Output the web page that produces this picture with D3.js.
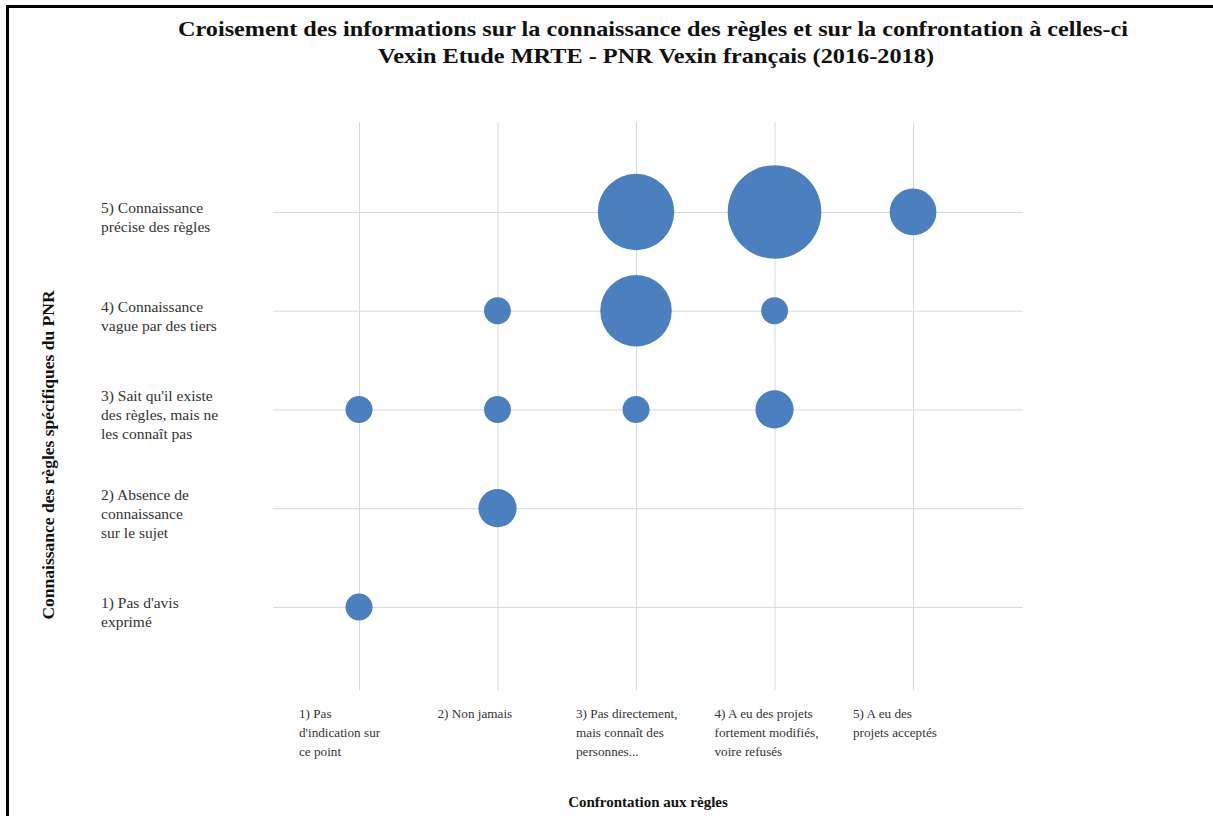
<!DOCTYPE html>
<html>
<head>
<meta charset="utf-8">
<script src="https://cdn.jsdelivr.net/npm/d3@7"></script>
<style>
  body { margin: 0; background: #fff; }
  svg text { font-family: "Liberation Serif", "Times New Roman", serif; }
</style>
</head>
<body>
<div class="chart"></div>
<script>
// axis categories (multi-line labels, as in the original)
const X_LABELS = [
  ["1) Pas", "d'indication sur", "ce point"],
  ["2) Non jamais"],
  ["3) Pas directement,", "mais connaît des", "personnes..."],
  ["4) A eu des projets", "fortement modifiés,", "voire refusés"],
  ["5) A eu des", "projets acceptés"]
];
const Y_LABELS = [
  ["1) Pas d'avis", "exprimé"],
  ["2) Absence de", "connaissance", "sur le sujet"],
  ["3) Sait qu'il existe", "des règles, mais ne", "les connaît pas"],
  ["4) Connaissance", "vague par des tiers"],
  ["5) Connaissance", "précise des règles"]
];

// bubbles: x = confrontation, y = connaissance, size = effectif
const CONFRONTATION = [1, 2, 3, 4, 2, 3, 4, 3, 4, 5, 2, 1];
const CONNAISSANCE  = [3, 3, 3, 3, 4, 4, 4, 5, 5, 5, 2, 1];
const EFFECTIF      = [1, 1, 1, 2, 1, 7, 1, 8, 12, 3, 2, 1];

const TITLE = [
  "Croisement des informations sur la connaissance des règles et sur la confrontation à celles-ci",
  "Vexin Etude MRTE  - PNR Vexin français (2016-2018)"
];
const X_TITLE = "Confrontation aux règles";
const Y_TITLE = "Connaissance des règles spécifiques du PNR";

const W = 1213, H = 816;
const BUBBLE = "#4b7fbd";
const GRID = "#d9d9d9";

const svg = d3.select(".chart").append("svg")
  .attr("width", W).attr("height", H);

// frame (only left and top edges are visible in the crop)
svg.append("line").attr("x1", 7.5).attr("x2", 7.5).attr("y1", 5).attr("y2", H)
  .attr("stroke", "#000").attr("stroke-width", 3);
svg.append("line").attr("x1", 6).attr("x2", W).attr("y1", 6.5).attr("y2", 6.5)
  .attr("stroke", "#000").attr("stroke-width", 3);

// plot area
const plotLeft = 273, plotRight = 1023, plotTop = 122, plotBottom = 690;
const xScale = d3.scaleLinear().domain([0.379, 5.794]).range([plotLeft, plotRight]);
const yScale = d3.scaleLinear().domain([0.159, 5.911]).range([plotBottom, plotTop]);
const rScale = d3.scaleSqrt().domain([0, 12]).range([0, 46.8]);

const ticks = d3.range(1, 6);

// gridlines via axes
svg.append("g")
  .attr("class", "grid-x")
  .attr("transform", `translate(0,${plotBottom})`)
  .call(d3.axisBottom(xScale).tickValues(ticks).tickSize(-(plotBottom - plotTop)).tickFormat(""))
  .call(g => g.select(".domain").remove())
  .call(g => g.selectAll("line").attr("stroke", GRID));

svg.append("g")
  .attr("class", "grid-y")
  .attr("transform", `translate(${plotLeft},0)`)
  .call(d3.axisLeft(yScale).tickValues(ticks).tickSize(-(plotRight - plotLeft)).tickFormat(""))
  .call(g => g.select(".domain").remove())
  .call(g => g.selectAll("line").attr("stroke", GRID));

// bubbles
const bubbles = EFFECTIF.map((v, i) => ({ x: CONFRONTATION[i], y: CONNAISSANCE[i], n: v }));
svg.append("g").selectAll("circle")
  .data(bubbles)
  .join("circle")
  .attr("cx", d => xScale(d.x))
  .attr("cy", d => yScale(d.y))
  .attr("r", d => rScale(d.n))
  .attr("fill", BUBBLE);

// x category labels
const lineH = 19;
svg.append("g").selectAll("text")
  .data(X_LABELS)
  .join("text")
  .attr("font-size", 13.2)
  .attr("fill", "#333")
  .each(function (lines, i) {
    const x0 = xScale(i + 1) - 60;
    d3.select(this).selectAll("tspan")
      .data(lines)
      .join("tspan")
      .attr("x", x0)
      .attr("y", (d, j) => plotBottom + 28 + j * lineH)
      .text(d => d);
  });

// y category labels
svg.append("g").selectAll("text")
  .data(Y_LABELS)
  .join("text")
  .attr("font-size", 15.5)
  .attr("fill", "#333")
  .each(function (lines, i) {
    const yc = yScale(i + 1) + 6;
    const y0 = yc - (lines.length - 1) * lineH / 2 + 5;
    d3.select(this).selectAll("tspan")
      .data(lines)
      .join("tspan")
      .attr("x", 101)
      .attr("y", (d, j) => y0 + j * lineH)
      .text(d => d);
  });

// titles
svg.append("text")
  .attr("x", 178).attr("y", 36)
  .attr("font-size", 21).attr("font-weight", "bold").attr("fill", "#111")
  .attr("textLength", 950).attr("lengthAdjust", "spacingAndGlyphs")
  .text(TITLE[0]);
svg.append("text")
  .attr("x", 378).attr("y", 63)
  .attr("font-size", 21).attr("font-weight", "bold").attr("fill", "#111")
  .attr("textLength", 556).attr("lengthAdjust", "spacingAndGlyphs")
  .text(TITLE[1]);

svg.append("text")
  .attr("x", 648).attr("y", 807)
  .attr("text-anchor", "middle")
  .attr("font-size", 15).attr("font-weight", "bold").attr("fill", "#111")
  .text(X_TITLE);

svg.append("text")
  .attr("transform", "translate(54,455) rotate(-90)")
  .attr("text-anchor", "middle")
  .attr("font-size", 17.5).attr("font-weight", "bold").attr("fill", "#111")
  .text(Y_TITLE);
</script>
</body>
</html>
